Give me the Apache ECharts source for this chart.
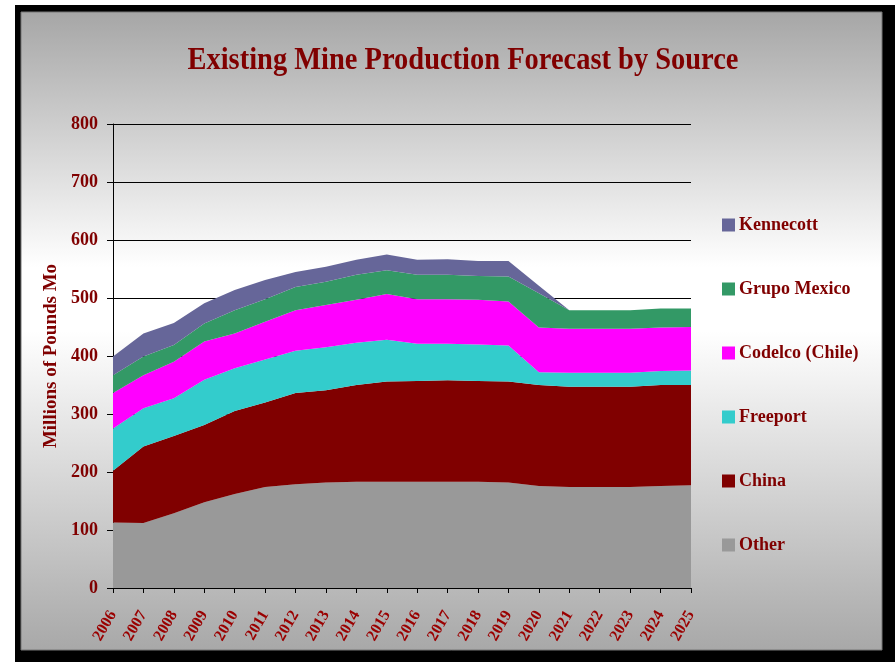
<!DOCTYPE html>
<html>
<head>
<meta charset="utf-8">
<script src="https://cdn.jsdelivr.net/npm/echarts@6/dist/echarts.min.js"></script>
<style>
html,body{margin:0;padding:0;background:#ffffff;}
#chart{width:895px;height:662px;}
</style>
</head>
<body>
<div id="chart"></div>
<script>
const years = ['2006','2007','2008','2009','2010','2011','2012','2013','2014','2015','2016','2017','2018','2019','2020','2021','2022','2023','2024','2025'];
const other     = [113,112,129,148,162,174,179,182,183,183,183,183,183,182,176,174,174,174,176,177];
const china     = [89,132,133,133,143,146,157,159,167,173,174,175,174,174,174,173,173,173,174,173];
const freeport  = [73,66,65,78,74,74,73,74,73,72,64,63,63,62,22,24,24,24,24,25];
const codelco   = [61,57,63,66,60,65,70,73,74,79,77,77,77,76,77,76,76,76,75,75];
const grupo     = [31,32,29,31,40,39,40,40,43,41,42,42,41,43,59,32,32,32,33,32];
const kennecott = [32,40,38,35,35,33,26,26,26,27,26,27,26,27,13,0,0,0,0,0];
const yTicks = [0,100,200,300,400,500,600,700,800];
const legendOrder = ['Kennecott','Grupo Mexico','Codelco (Chile)','Freeport','China','Other'];
const titleText = 'Existing Mine Production Forecast by Source';

const serif = '"Liberation Serif","Times New Roman",serif';
const red = '#800000';

// measure title to emulate the condensed look
const cv = document.createElement('canvas').getContext('2d');
cv.font = 'bold 32px ' + serif;
const tw = cv.measureText(titleText).width;
const titleScale = 551 / tw;

const chart = echarts.init(document.getElementById('chart'), null, {renderer:'canvas'});

function area(name, data, color){
  return {
    name, type:'line', stack:'total', data,
    showSymbol:false, symbol:'none',
    lineStyle:{width:0, color},
    itemStyle:{color},
    areaStyle:{color, opacity:1},
    emphasis:{disabled:true},
    z:3
  };
}

chart.setOption({
  animation:false,
  backgroundColor:'#ffffff',
  graphic:[
    {type:'rect', z:-10, silent:true, shape:{x:15,y:5,width:880,height:657}, style:{fill:'#000000'}},
    {type:'rect', z:-9, silent:true, shape:{x:21,y:12,width:861,height:638},
      style:{
        fill:new echarts.graphic.LinearGradient(0,0,0,1,[
          {offset:0,color:'#a6a6a6'},
          {offset:0.4,color:'#ffffff'},
          {offset:0.5,color:'#ffffff'},
          {offset:1,color:'#a8a8a8'}
        ]),
        stroke:'#777777', lineWidth:1
      }},
    {type:'text', z:10, silent:true, x:463, y:61, scaleX:titleScale, scaleY:1,
      style:{text:titleText, x:0, y:0, align:'center', verticalAlign:'middle',
        font:'bold 32px ' + serif, fill:red}}
  ],
  grid:{left:113, top:124, width:578, height:464, containLabel:false},
  legend:{
    data:legendOrder,
    orient:'vertical',
    left:717, top:211,
    icon:'rect',
    itemWidth:13, itemHeight:13,
    itemGap:46,
    itemStyle:{borderWidth:0},
    textStyle:{fontFamily:serif, fontWeight:'bold', fontSize:18, color:red, padding:[0,0,0,-1]},
    selectedMode:false
  },
  xAxis:{
    type:'category', data:years, boundaryGap:false,
    axisLine:{show:true, lineStyle:{color:'#000000', width:1}},
    axisTick:{show:true, alignWithLabel:true, length:5, lineStyle:{color:'#000000'}},
    axisLabel:{interval:0, rotate:60, margin:24, fontFamily:serif, fontWeight:'bold', fontSize:16, color:'#9a0000'},
    splitLine:{show:false}
  },
  yAxis:{
    type:'value', min:0, max:800, interval:100,
    name:'Millions of Pounds Mo', nameLocation:'middle', nameGap:50,
    nameTextStyle:{fontFamily:serif, fontWeight:'bold', fontSize:19, color:red},
    axisLine:{show:true, lineStyle:{color:'#000000', width:1}},
    axisTick:{show:true, length:6, lineStyle:{color:'#000000'}},
    axisLabel:{margin:15, fontFamily:serif, fontWeight:'bold', fontSize:18, color:red,
      formatter:function(v){ return yTicks.indexOf(v) >= 0 ? String(v) : ''; }},
    splitLine:{show:true, lineStyle:{color:'#000000', width:1}}
  },
  series:[
    area('Other', other, '#999999'),
    area('China', china, '#800000'),
    area('Freeport', freeport, '#33cccc'),
    area('Codelco (Chile)', codelco, '#ff00ff'),
    area('Grupo Mexico', grupo, '#339966'),
    area('Kennecott', kennecott, '#666699')
  ]
});
</script>
</body>
</html>
